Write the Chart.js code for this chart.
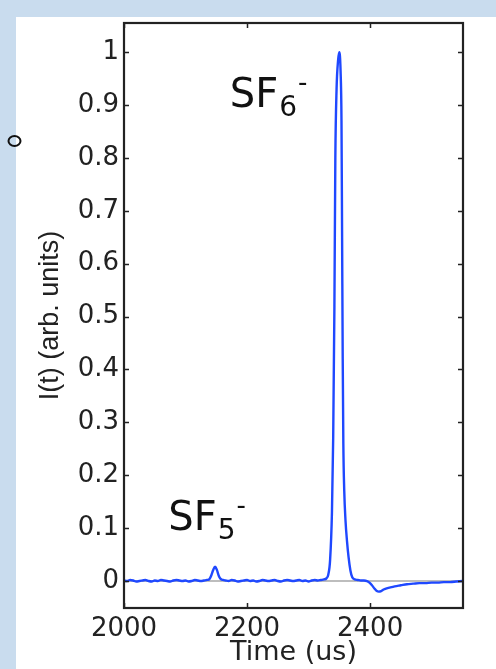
<!DOCTYPE html>
<html>
<head>
<meta charset="utf-8">
<script src="https://cdn.jsdelivr.net/npm/chart.js@4"></script>
<style>
  html, body { margin: 0; padding: 0; width: 496px; height: 669px; overflow: hidden; background: #c9dcee; }
  #panel { position: absolute; left: 16px; top: 17px; right: 0; bottom: 0; background: #ffffff; }
  #wrap { position: absolute; left: 0; top: 0; width: 496px; height: 669px; }
</style>
</head>
<body>
<div id="panel"></div>
<div id="wrap"><canvas id="c" width="496" height="669"></canvas></div>
<script>
// Time-of-flight trace: arrival time (microseconds) and normalised current
const timeUs = [
  2000, 2005, 2010, 2015, 2020, 2025, 2030, 2035, 2040, 2045,
  2050, 2055, 2060, 2065, 2070, 2075, 2080, 2085, 2090, 2095,
  2100, 2105, 2110, 2115, 2120, 2125, 2130, 2135, 2139, 2142,
  2145, 2148, 2151, 2154, 2157, 2161, 2165, 2170, 2175, 2180,
  2185, 2190, 2195, 2200, 2205, 2210, 2215, 2220, 2225, 2230,
  2235, 2240, 2245, 2250, 2255, 2260, 2265, 2270, 2275, 2280,
  2285, 2290, 2295, 2300, 2305, 2310, 2315, 2320, 2325, 2329,
  2332, 2335, 2338, 2340, 2342, 2343.5, 2345.5, 2348, 2350, 2352,
  2353.5, 2354.5, 2355.5, 2356.5, 2358, 2360, 2362.5, 2365, 2368, 2371,
  2375, 2380, 2385, 2390, 2395, 2399, 2403, 2407, 2411, 2414,
  2418, 2422, 2427, 2433, 2440, 2450, 2460, 2470, 2480, 2490,
  2500, 2510, 2520, 2530, 2540, 2550
];
const intensity = [
  0.001, 0.000, 0.002, 0.001, -0.001, 0.000, 0.001, 0.002, 0.000, -0.001,
  0.001, 0.000, 0.002, 0.001, 0.000, -0.001, 0.001, 0.002, 0.001, 0.000,
  0.001, -0.001, 0.000, 0.002, 0.001, 0.000, 0.001, 0.002, 0.004, 0.011,
  0.021, 0.027, 0.021, 0.010, 0.004, 0.002, 0.001, 0.000, 0.002, 0.001,
  -0.001, 0.000, 0.001, 0.002, 0.000, 0.001, -0.001, 0.000, 0.002, 0.001,
  0.000, 0.001, 0.002, 0.000, -0.001, 0.001, 0.002, 0.001, 0.000, 0.001,
  0.002, 0.000, 0.001, -0.001, 0.001, 0.002, 0.001, 0.002, 0.003, 0.005,
  0.012, 0.040, 0.130, 0.270, 0.520, 0.800, 0.930, 0.985, 1.000, 0.965,
  0.870, 0.650, 0.420, 0.260, 0.170, 0.115, 0.075, 0.045, 0.020, 0.007,
  0.003, 0.002, 0.001, 0.001, 0.000, -0.003, -0.008, -0.014, -0.019, -0.020,
  -0.019, -0.016, -0.014, -0.012, -0.010, -0.008, -0.006, -0.005, -0.004, -0.004,
  -0.003, -0.003, -0.002, -0.002, -0.001, 0.000
];

const xTicks = [2000, 2200, 2400];
const xTickLabels = ['2000', '2200', '2400'];
const yTicks = [0, 0.1, 0.2, 0.3, 0.4, 0.5, 0.6, 0.7, 0.8, 0.9, 1];
const yTickLabels = ['0', '0.1', '0.2', '0.3', '0.4', '0.5', '0.6', '0.7', '0.8', '0.9', '1'];

// Peak labels: species name, subscript, superscript and anchor (time, intensity)
const peakNames = ['SF', 'SF'];
const peakSubs = ['6', '5'];
const peakSups = ['-', '-'];
const peakAnchorT = [2172, 2072];
const peakAnchorI = [0.896, 0.096];

const points = timeUs.map((t, i) => ({ x: t, y: intensity[i] }));

const INK = '#222222';

// Zero reference line under the trace
const zeroLine = {
  id: 'zeroLine',
  beforeDatasetsDraw(chart) {
    const { ctx, chartArea: a, scales: { y } } = chart;
    const py = y.getPixelForValue(0);
    ctx.save();
    ctx.strokeStyle = '#bdbdbd';
    ctx.lineWidth = 2;
    ctx.beginPath();
    ctx.moveTo(a.left, py);
    ctx.lineTo(a.right, py);
    ctx.stroke();
    ctx.restore();
  }
};

// Box frame with inward tick marks on all four sides
const frame = {
  id: 'frame',
  afterDatasetsDraw(chart) {
    const { ctx, chartArea: a, scales: { x, y } } = chart;
    const len = 5;
    ctx.save();
    ctx.strokeStyle = INK;
    ctx.lineWidth = 1.5;
    ctx.beginPath();
    yTicks.forEach(v => {
      const py = Math.round(y.getPixelForValue(v)) + 0.5;
      ctx.moveTo(a.left, py); ctx.lineTo(a.left + len, py);
      ctx.moveTo(a.right, py); ctx.lineTo(a.right - len, py);
    });
    xTicks.forEach(v => {
      const px = Math.round(x.getPixelForValue(v)) + 0.5;
      ctx.moveTo(px, a.bottom); ctx.lineTo(px, a.bottom - len);
      ctx.moveTo(px, a.top); ctx.lineTo(px, a.top + len);
    });
    ctx.stroke();
    ctx.lineWidth = 2.2;
    ctx.strokeRect(a.left, a.top, a.right - a.left, a.bottom - a.top);
    ctx.restore();
  }
};

// Species labels with subscript and superscript
const peakLabels = {
  id: 'peakLabels',
  afterDraw(chart) {
    const { ctx, scales: { x, y } } = chart;
    ctx.save();
    ctx.fillStyle = '#111111';
    ctx.textBaseline = 'alphabetic';
    ctx.textAlign = 'left';
    peakNames.forEach((name, i) => {
      const px = x.getPixelForValue(peakAnchorT[i]);
      const py = y.getPixelForValue(peakAnchorI[i]);
      ctx.font = '40px "DejaVu Sans"';
      ctx.fillText(name, px, py);
      const w = ctx.measureText(name).width;
      ctx.font = '28px "DejaVu Sans"';
      ctx.fillText(peakSubs[i], px + w + 1, py + 9);
      const w2 = ctx.measureText(peakSubs[i]).width;
      ctx.font = '26px "DejaVu Sans"';
      ctx.fillText(peakSups[i], px + w + w2 + 2, py - 16);
    });
    // list bullet at the left margin
    ctx.strokeStyle = '#111111';
    ctx.lineWidth = 2;
    ctx.beginPath();
    ctx.ellipse(14.5, 141, 6, 4.9, 0, 0, Math.PI * 2);
    ctx.stroke();
    ctx.restore();
  }
};

new Chart(document.getElementById('c'), {
  type: 'line',
  data: {
    datasets: [{
      data: points,
      borderColor: '#1f48ff',
      borderWidth: 2.4,
      pointRadius: 0,
      fill: false,
      cubicInterpolationMode: 'monotone'
    }]
  },
  options: {
    responsive: false,
    animation: false,
    events: [],
    layout: { padding: { left: 0, top: 23, right: 33, bottom: 0 } },
    plugins: { legend: { display: false }, tooltip: { enabled: false } },
    scales: {
      x: {
        type: 'linear',
        min: 2000,
        max: 2551,
        afterBuildTicks: s => { s.ticks = xTicks.map(v => ({ value: v })); },
        afterFit: s => { s.height = 61; },
        grid: { display: false, drawTicks: false },
        border: { display: false },
        ticks: {
          color: INK,
          padding: 6,
          maxRotation: 0,
          autoSkip: false,
          font: { family: '"DejaVu Sans"', size: 26 },
          callback: (v, i) => xTickLabels[i]
        },
        title: {
          display: true,
          text: 'Time (us)',
          color: INK,
          padding: { top: 0, bottom: 0 },
          font: { family: '"DejaVu Sans"', size: 27 }
        }
      },
      y: {
        type: 'linear',
        min: -0.051,
        max: 1.055,
        afterBuildTicks: s => { s.ticks = yTicks.map(v => ({ value: v })); },
        afterFit: s => { s.width = 124; },
        grid: { display: false, drawTicks: false },
        border: { display: false },
        ticks: {
          color: INK,
          padding: 5,
          autoSkip: false,
          font: { family: '"DejaVu Sans"', size: 26 },
          callback: (v, i) => yTickLabels[i]
        },
        title: {
          display: true,
          text: 'I(t) (arb. units)',
          color: INK,
          padding: { top: 34, bottom: 0 },
          font: { family: '"Liberation Sans"', size: 27 }
        }
      }
    }
  },
  plugins: [zeroLine, frame, peakLabels]
});
</script>
</body>
</html>
